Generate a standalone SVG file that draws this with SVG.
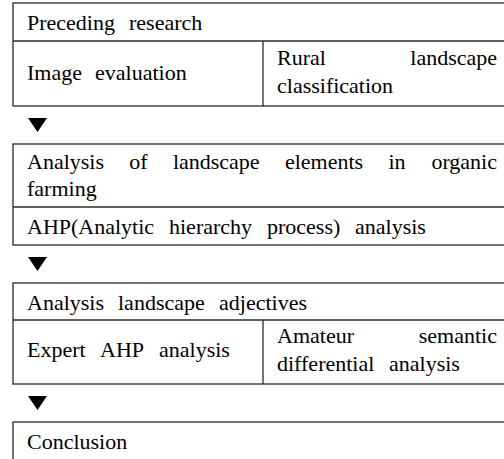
<svg xmlns="http://www.w3.org/2000/svg" width="504" height="459" viewBox="0 0 504 459">
<defs>
<polygon id="tri" points="0,0 19,0 9.5,14" fill="#000"/>
</defs>
<rect x="0" y="0" width="504" height="459" fill="#fff"/>
<g id="stage1">
<g fill="none" stroke="#2a2a2a" stroke-width="1.3">
<rect x="13" y="3" width="498" height="103"/>
<line x1="13" y1="41" x2="511" y2="41"/>
<line x1="263" y1="41" x2="263" y2="106"/>
</g>
<g font-family="Liberation Serif" font-size="22" fill="#000">
<text x="27" y="30">Preceding</text>
<text x="129" y="30">research</text>
<text x="27" y="80">Image</text>
<text x="95" y="80">evaluation</text>
<text x="277" y="65">Rural</text>
<text x="497" y="65" text-anchor="end">landscape</text>
<text x="277" y="93">classification</text>
</g>
</g>
<g id="stage2">
<g fill="none" stroke="#2a2a2a" stroke-width="1.3">
<rect x="13" y="144" width="498" height="101"/>
<line x1="13" y1="207" x2="511" y2="207"/>
</g>
<g font-family="Liberation Serif" font-size="22" fill="#000">
<text x="27" y="169">Analysis</text>
<text x="129.3" y="169">of</text>
<text x="172.9" y="169">landscape</text>
<text x="284.9" y="169">elements</text>
<text x="388.4" y="169">in</text>
<text x="497" y="169" text-anchor="end">organic</text>
<text x="27" y="196">farming</text>
<text x="27" y="234">AHP(Analytic</text>
<text x="169" y="234">hierarchy</text>
<text x="267" y="234">process)</text>
<text x="355" y="234">analysis</text>
</g>
</g>
<g id="stage3">
<g fill="none" stroke="#2a2a2a" stroke-width="1.3">
<rect x="13" y="283" width="498" height="101"/>
<line x1="13" y1="320" x2="511" y2="320"/>
<line x1="263" y1="320" x2="263" y2="384"/>
</g>
<g font-family="Liberation Serif" font-size="22" fill="#000">
<text x="27" y="310">Analysis</text>
<text x="118" y="310">landscape</text>
<text x="219" y="310">adjectives</text>
<text x="27" y="357">Expert</text>
<text x="100" y="357">AHP</text>
<text x="159" y="357">analysis</text>
<text x="277" y="343">Amateur</text>
<text x="497" y="343" text-anchor="end">semantic</text>
<text x="277" y="371">differential</text>
<text x="389" y="371">analysis</text>
</g>
</g>
<g id="stage4">
<rect x="13" y="422" width="498" height="50" fill="none" stroke="#2a2a2a" stroke-width="1.3"/>
<text x="27" y="449" font-family="Liberation Serif" font-size="22" fill="#000">Conclusion</text>
</g>
<g id="connectors">
<use href="#tri" x="28" y="118"/>
<use href="#tri" x="28" y="257"/>
<use href="#tri" x="28" y="396"/>
</g>
</svg>
